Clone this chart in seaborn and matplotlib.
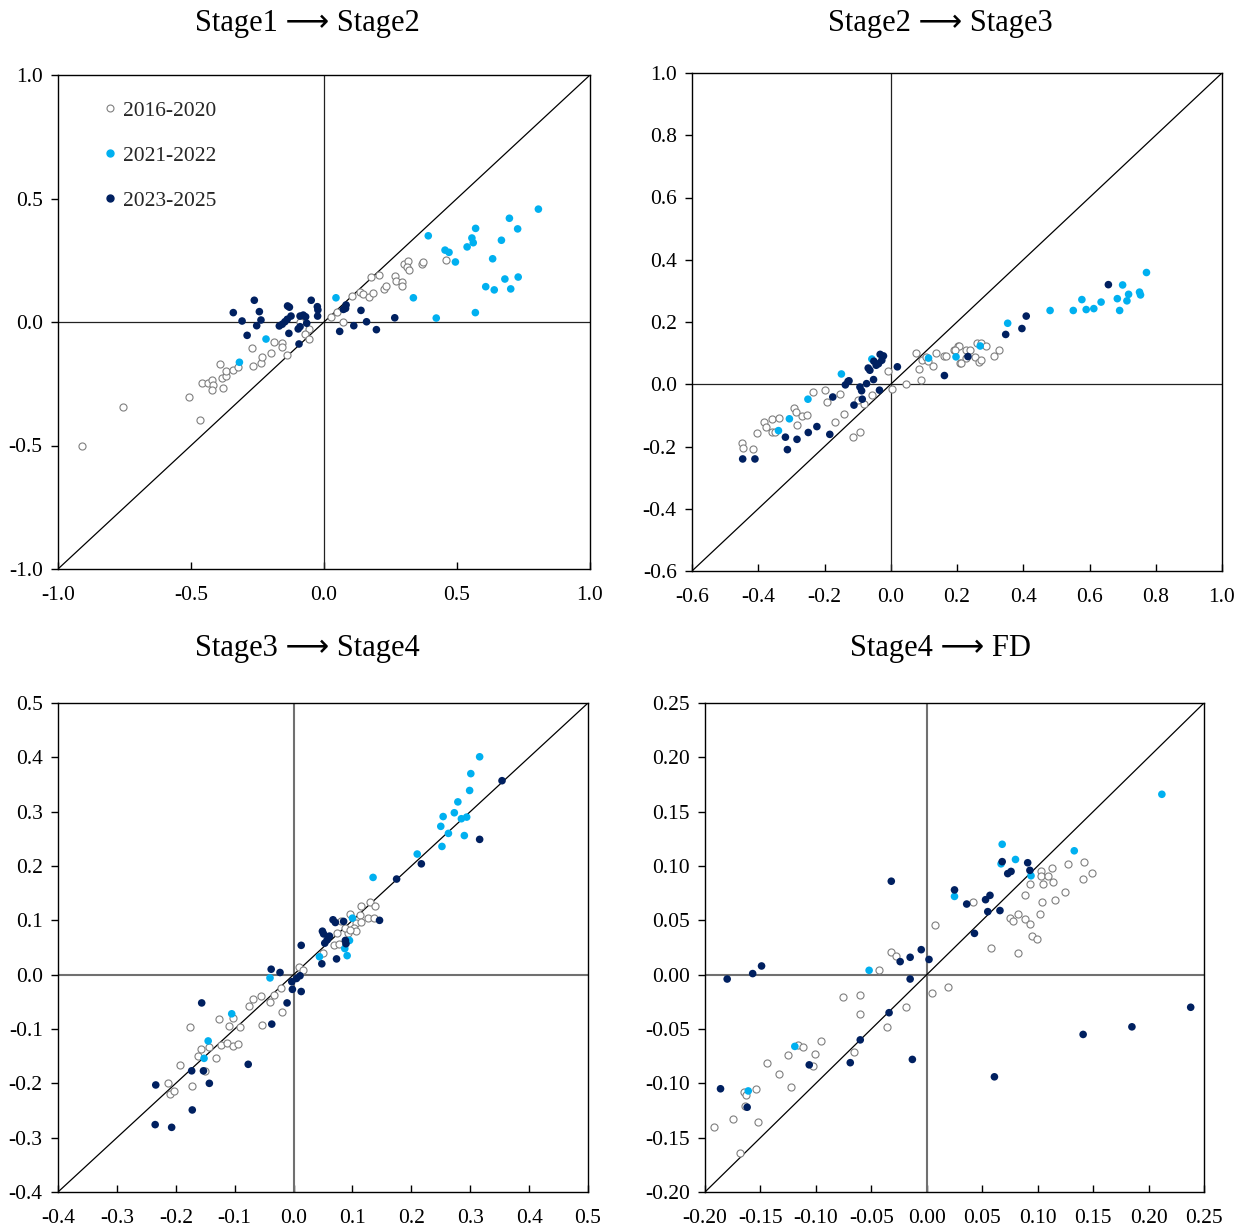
import numpy as np
import pandas as pd
import matplotlib
matplotlib.use("Agg")
import matplotlib.pyplot as plt
import seaborn as sns
from matplotlib.ticker import FixedLocator, FuncFormatter
from matplotlib.lines import Line2D

sns.set_theme(style="white")
plt.rcParams['font.family'] = ['Liberation Serif', 'DejaVu Sans']
plt.rcParams['axes.unicode_minus'] = False

periods = ["2016-2020", "2021-2022", "2023-2025"]

# ---------------- Stage1 -> Stage2 ----------------
s12_a_x = [-0.908, -0.754, -0.508, -0.465, -0.457, -0.436, -0.420, -0.417, -0.421, -0.380, -0.385, -0.370,
           -0.370, -0.390, -0.341, -0.325, -0.271, -0.267, -0.236, -0.232, -0.200, -0.188, -0.159, -0.158,
           -0.139, -0.056, -0.070, -0.058, -0.090, 0.026, 0.048, 0.073, 0.107, 0.135, 0.145, 0.169, 0.183,
           0.176, 0.206, 0.226, 0.232, 0.266, 0.272, 0.293, 0.293, 0.300, 0.317, 0.313, 0.320, 0.368, 0.371,
           0.460]
s12_a_y = [-0.502, -0.345, -0.305, -0.395, -0.247, -0.247, -0.235, -0.255, -0.275, -0.269, -0.225, -0.219,
           -0.197, -0.170, -0.193, -0.184, -0.107, -0.177, -0.167, -0.143, -0.127, -0.082, -0.086, -0.103,
           -0.134, -0.030, -0.049, -0.068, 0.002, 0.021, 0.042, -0.001, 0.107, 0.123, 0.113, 0.100, 0.116,
           0.183, 0.189, 0.134, 0.146, 0.186, 0.165, 0.162, 0.147, 0.235, 0.246, 0.223, 0.209, 0.236, 0.241,
           0.250]
s12_b_x = [0.806, 0.697, 0.728, 0.570, 0.392, 0.667, 0.556, 0.561, 0.538, 0.455, 0.470, 0.494, 0.634, 0.608,
           0.640, 0.680, 0.730, 0.702, 0.569, 0.045, 0.336, 0.422, -0.218, -0.318]
s12_b_y = [0.457, 0.420, 0.377, 0.379, 0.349, 0.331, 0.340, 0.321, 0.304, 0.291, 0.282, 0.243, 0.256, 0.143,
           0.130, 0.174, 0.182, 0.134, 0.038, 0.098, 0.098, 0.016, -0.069, -0.163]
s12_c_x = [-0.341, -0.308, -0.262, -0.243, -0.237, -0.253, -0.289, -0.137, -0.130, -0.124, -0.168, -0.157,
           -0.147, -0.138, -0.132, -0.097, -0.090, -0.094, -0.090, -0.078, -0.069, -0.065, -0.048, -0.025,
           -0.023, -0.024, 0.083, 0.073, 0.081, 0.139, 0.266, 0.160, 0.112, 0.059, 0.197]
s12_c_y = [0.038, 0.004, 0.088, 0.042, 0.008, -0.015, -0.054, 0.065, 0.060, 0.024, -0.016, -0.009,
           0.001, 0.011, -0.046, -0.028, -0.019, -0.089, 0.024, 0.028, 0.021, -0.005, 0.088, 0.062,
           0.049, 0.024, 0.069, 0.051, 0.055, 0.047, 0.017, 0.001, -0.015, -0.038, -0.031]

# ---------------- Stage2 -> Stage3 ----------------
s23_a_x = [-0.449, -0.446, -0.417, -0.404, -0.384, -0.378, -0.358, -0.338, -0.358, -0.350, -0.293, -0.287,
           -0.283, -0.268, -0.253, -0.234, -0.197, -0.192, -0.167, -0.153, -0.142, -0.113, -0.093, -0.099,
           -0.081, -0.056, -0.008, 0.004, 0.046, 0.076, 0.086, 0.090, 0.094, 0.105, 0.112, 0.127, 0.137,
           0.162, 0.168, 0.191, 0.203, 0.209, 0.205, 0.193, 0.228, 0.238, 0.261, 0.273, 0.287, 0.327, 0.312,
           0.253, 0.228, 0.211, 0.265, 0.271]
s23_a_y = [-0.189, -0.205, -0.209, -0.157, -0.122, -0.138, -0.111, -0.108, -0.153, -0.153, -0.075, -0.090,
           -0.130, -0.102, -0.099, -0.025, -0.019, -0.056, -0.122, -0.031, -0.094, -0.169, -0.152, -0.050,
           -0.063, -0.033, 0.042, -0.015, 0.002, 0.102, 0.049, 0.013, 0.077, 0.088, 0.075, 0.060, 0.102,
           0.090, 0.090, 0.109, 0.123, 0.068, 0.124, 0.109, 0.109, 0.111, 0.131, 0.133, 0.122, 0.109, 0.091,
           0.088, 0.083, 0.068, 0.070, 0.079]
s23_b_x = [-0.339, -0.306, -0.250, -0.149, -0.057, 0.114, 0.197, 0.270, 0.353, 0.481, 0.551, 0.577, 0.590,
           0.613, 0.635, 0.684, 0.691, 0.700, 0.713, 0.718, 0.751, 0.754, 0.772]
s23_b_y = [-0.149, -0.111, -0.048, 0.033, 0.081, 0.084, 0.088, 0.123, 0.196, 0.237, 0.237, 0.272, 0.240,
           0.243, 0.264, 0.275, 0.237, 0.319, 0.268, 0.289, 0.296, 0.287, 0.359]
s23_c_x = [-0.447, -0.410, -0.312, -0.318, -0.283, -0.249, -0.223, -0.184, -0.175, -0.111, -0.137, -0.129,
           -0.126, -0.093, -0.088, -0.086, -0.073, -0.052, -0.034, -0.068, -0.063, -0.051, -0.044, -0.032,
           -0.027, -0.022, -0.037, 0.020, 0.162, 0.233, 0.347, 0.396, 0.409, 0.657]
s23_c_y = [-0.240, -0.240, -0.210, -0.170, -0.177, -0.155, -0.136, -0.161, -0.041, -0.067, -0.002, 0.009,
           0.011, -0.009, -0.021, -0.048, 0.002, 0.015, -0.019, 0.052, 0.045, 0.074, 0.061, 0.096,
           0.077, 0.091, 0.066, 0.056, 0.028, 0.089, 0.160, 0.179, 0.219, 0.320]

# ---------------- Stage3 -> Stage4 ----------------
s34_a_x = [0.114, 0.130, 0.139, 0.096, 0.113, 0.106, 0.114, 0.127, 0.137, 0.103, 0.106, 0.092, 0.080, 0.074,
           0.087, 0.095, 0.069, 0.078, 0.050, 0.009, 0.016, -0.022, -0.034, -0.056, -0.069, -0.075, -0.040,
           -0.020, -0.176, -0.127, -0.102, -0.109, -0.091, -0.157, -0.144, -0.163, -0.124, -0.113, -0.103,
           -0.095, -0.131, -0.150, -0.193, -0.213, -0.209, -0.203, -0.172, -0.054]
s34_a_y = [0.126, 0.133, 0.127, 0.112, 0.110, 0.096, 0.097, 0.104, 0.104, 0.086, 0.080, 0.077, 0.098, 0.077,
           0.085, 0.083, 0.055, 0.057, 0.040, 0.015, 0.009, -0.025, -0.038, -0.039, -0.045, -0.057, -0.050,
           -0.068, -0.096, -0.082, -0.080, -0.095, -0.096, -0.136, -0.134, -0.150, -0.129, -0.125, -0.131,
           -0.127, -0.153, -0.177, -0.166, -0.200, -0.220, -0.215, -0.205, -0.093]
s34_b_x = [0.316, 0.301, 0.299, 0.279, 0.273, 0.254, 0.294, 0.285, 0.250, 0.263, 0.290, 0.252, 0.210, 0.135,
           0.100, 0.095, 0.087, 0.091, 0.044, -0.040, -0.105, -0.145, -0.152]
s34_b_y = [0.401, 0.370, 0.339, 0.318, 0.298, 0.291, 0.290, 0.287, 0.273, 0.260, 0.256, 0.236, 0.222, 0.179,
           0.104, 0.063, 0.048, 0.035, 0.033, -0.006, -0.072, -0.122, -0.154]
s34_c_x = [0.354, 0.316, 0.217, 0.175, 0.146, 0.067, 0.071, 0.085, 0.049, 0.051, 0.061, 0.057, 0.053, 0.088,
           0.089, 0.073, 0.048, 0.013, -0.038, -0.023, 0.011, 0.005, -0.003, -0.002, 0.013, -0.011, -0.037,
           -0.077, -0.156, -0.143, -0.153, -0.173, -0.172, -0.234, -0.235, -0.207]
s34_c_y = [0.357, 0.249, 0.204, 0.176, 0.100, 0.101, 0.096, 0.098, 0.080, 0.075, 0.071, 0.064, 0.058, 0.063,
           0.057, 0.029, 0.020, 0.054, 0.010, 0.004, -0.002, -0.007, -0.013, -0.027, -0.031, -0.052, -0.091,
           -0.165, -0.052, -0.200, -0.177, -0.177, -0.249, -0.203, -0.276, -0.281]

# ---------------- Stage4 -> FD ----------------
s4f_a_x = [-0.043, -0.192, -0.175, -0.152, -0.168, -0.165, -0.163, -0.154, -0.164, -0.144, -0.133, -0.122,
           -0.125, -0.116, -0.112, -0.101, -0.103, -0.095, -0.076, -0.060, -0.060, -0.066, -0.036, -0.019,
           0.005, 0.019, -0.032, -0.028, 0.007, 0.042, 0.058, 0.082, 0.075, 0.078, 0.082, 0.089, 0.089, 0.093,
           0.095, 0.099, 0.093, 0.102, 0.104, 0.105, 0.103, 0.103, 0.109, 0.113, 0.114, 0.116, 0.125, 0.127,
           0.142, 0.141, 0.149]
s4f_a_y = [0.004, -0.140, -0.133, -0.136, -0.164, -0.108, -0.111, -0.105, -0.121, -0.081, -0.091, -0.103,
           -0.074, -0.065, -0.067, -0.073, -0.084, -0.061, -0.021, -0.019, -0.036, -0.071, -0.048, -0.030,
           -0.017, -0.011, 0.021, 0.017, 0.046, 0.067, 0.025, 0.020, 0.052, 0.049, 0.056, 0.073, 0.051, 0.047,
           0.036, 0.033, 0.083, 0.056, 0.067, 0.083, 0.095, 0.091, 0.091, 0.098, 0.085, 0.069, 0.076, 0.102,
           0.104, 0.088, 0.094]
s4f_b_x = [-0.119, -0.161, -0.052, 0.068, 0.080, 0.067, 0.094, 0.133, 0.025, 0.212]
s4f_b_y = [-0.066, -0.107, 0.004, 0.120, 0.106, 0.102, 0.091, 0.114, 0.072, 0.166]
s4f_c_x = [-0.180, -0.157, -0.149, -0.186, -0.162, -0.106, -0.069, -0.060, -0.034, -0.015, -0.013, -0.024,
           -0.032, -0.005, -0.015, 0.002, 0.025, 0.036, 0.053, 0.057, 0.055, 0.066, 0.043, 0.068, 0.073,
           0.076, 0.091, 0.093, 0.061, 0.141, 0.185, 0.238]
s4f_c_y = [-0.004, 0.001, 0.008, -0.105, -0.122, -0.083, -0.081, -0.060, -0.035, -0.004, -0.078, 0.012,
           0.086, 0.023, 0.016, 0.014, 0.078, 0.065, 0.069, 0.073, 0.058, 0.059, 0.038, 0.104, 0.093,
           0.095, 0.103, 0.096, -0.094, -0.055, -0.048, -0.030]

titles = ["Stage1 \u27f6 Stage2", "Stage2 \u27f6 Stage3", "Stage3 \u27f6 Stage4", "Stage4 \u27f6 FD"]
x_ticks = [[-1.0, -0.5, 0.0, 0.5, 1.0],
           [-0.6, -0.4, -0.2, 0.0, 0.2, 0.4, 0.6, 0.8, 1.0],
           [-0.4, -0.3, -0.2, -0.1, 0.0, 0.1, 0.2, 0.3, 0.4, 0.5],
           [-0.20, -0.15, -0.10, -0.05, 0.00, 0.05, 0.10, 0.15, 0.20, 0.25]]
y_ticks = [[-1.0, -0.5, 0.0, 0.5, 1.0],
           [-0.6, -0.4, -0.2, 0.0, 0.2, 0.4, 0.6, 0.8, 1.0],
           [-0.4, -0.3, -0.2, -0.1, 0.0, 0.1, 0.2, 0.3, 0.4, 0.5],
           [-0.20, -0.15, -0.10, -0.05, 0.00, 0.05, 0.10, 0.15, 0.20, 0.25]]
decimals = [1, 1, 1, 2]

groups = [
    [(s12_a_x, s12_a_y), (s12_b_x, s12_b_y), (s12_c_x, s12_c_y)],
    [(s23_a_x, s23_a_y), (s23_b_x, s23_b_y), (s23_c_x, s23_c_y)],
    [(s34_a_x, s34_a_y), (s34_b_x, s34_b_y), (s34_c_x, s34_c_y)],
    [(s4f_a_x, s4f_a_y), (s4f_b_x, s4f_b_y), (s4f_c_x, s4f_c_y)],
]

W, H = 1248, 1230
# axes boxes in pixels: left, top, right, bottom
boxes = [(58, 75, 590, 569), (692, 73, 1222, 571), (58, 703, 588, 1192), (705, 703, 1204, 1192)]
title_pos = [(307, 23), (940, 23), (307, 649), (941, 649)]
zero_color = ["#222222", "#222222", "#707070", "#707070"]
zero_lw = [0.9, 0.9, 1.5, 1.5]

styles = {
    "2016-2020": dict(color="white", edgecolor="#7f7f7f", linewidth=0.8, s=26),
    "2021-2022": dict(color="#00B0F0", edgecolor="none", linewidth=0, s=30),
    "2023-2025": dict(color="#002060", edgecolor="none", linewidth=0, s=30),
}

fig = plt.figure(figsize=(W / 100, H / 100), dpi=100)
fig.patch.set_facecolor("white")

for i in range(4):
    l, t, r, b = boxes[i]
    ax = fig.add_axes([l / W, 1 - b / H, (r - l) / W, (b - t) / H])
    ax.set_facecolor("white")

    frames = []
    for period, (xs, ys) in zip(periods, groups[i]):
        frames.append(pd.DataFrame({"x": xs, "y": ys, "period": period}))
    df = pd.concat(frames, ignore_index=True)

    lo, hi = x_ticks[i][0], x_ticks[i][-1]
    ylo, yhi = y_ticks[i][0], y_ticks[i][-1]

    ax.axhline(0, color=zero_color[i], lw=zero_lw[i], zorder=1)
    ax.axvline(0, color=zero_color[i], lw=zero_lw[i], zorder=1)
    ax.axline((0, 0), slope=1, color="black", lw=0.9, zorder=1)

    for period in periods:
        sub = df[df["period"] == period]
        sns.scatterplot(data=sub, x="x", y="y", ax=ax, marker="o", zorder=3,
                        legend=False, **styles[period])

    ax.set_xlim(lo, hi)
    ax.set_ylim(ylo, yhi)
    ax.xaxis.set_major_locator(FixedLocator(x_ticks[i]))
    ax.yaxis.set_major_locator(FixedLocator(y_ticks[i]))
    d = decimals[i]
    ax.xaxis.set_major_formatter(FuncFormatter(lambda v, p, d=d: f"{v:.{d}f}"))
    ax.yaxis.set_major_formatter(FuncFormatter(lambda v, p, d=d: f"{v:.{d}f}"))
    ax.set_xlabel("")
    ax.set_ylabel("")
    ax.tick_params(axis="x", bottom=True, direction="in", length=5, width=1,
                   colors="black", labelsize=15.5, pad=12)
    ax.tick_params(axis="y", left=True, direction="out", length=5, width=1,
                   colors="black", labelsize=15.5, pad=6)
    for sp in ax.spines.values():
        sp.set_color("black")
        sp.set_linewidth(1.0)
        sp.set_visible(True)

    fig.text(title_pos[i][0] / W, 1 - title_pos[i][1] / H, titles[i],
             ha="center", va="center", fontsize=22, color="black",
             family=["Liberation Serif", "DejaVu Sans"])

    if i == 0:
        handles = [
            Line2D([], [], marker="o", ls="none", markersize=5, markerfacecolor="white",
                   markeredgecolor="#7f7f7f", markeredgewidth=0.8),
            Line2D([], [], marker="o", ls="none", markersize=5, markerfacecolor="#00B0F0",
                   markeredgecolor="#00B0F0"),
            Line2D([], [], marker="o", ls="none", markersize=5, markerfacecolor="#002060",
                   markeredgecolor="#002060"),
        ]
        ax.legend(handles, periods, loc="upper left", bbox_to_anchor=(0.07, 0.965),
                  frameon=False, fontsize=15.5, labelspacing=1.15, handlelength=0.6,
                  handletextpad=0.3, borderaxespad=0)

fig.savefig("out.png", dpi=100, facecolor="white")
